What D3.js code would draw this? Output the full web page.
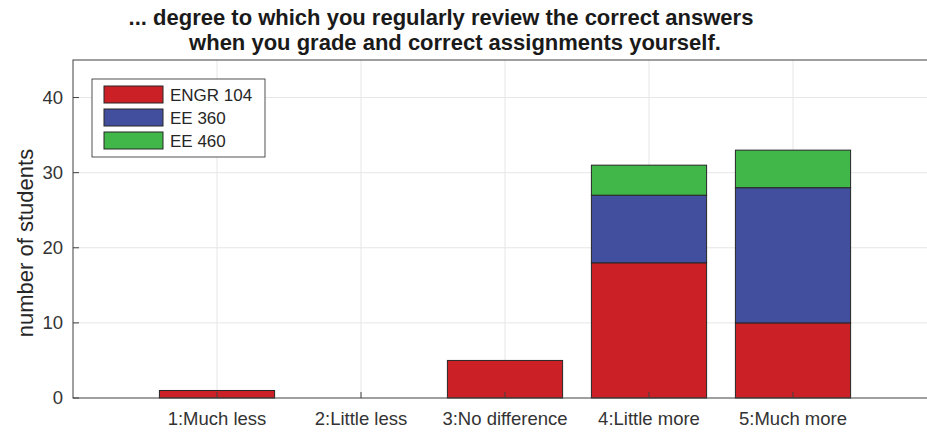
<!DOCTYPE html>
<html>
<head>
<meta charset="utf-8">
<script src="https://cdn.jsdelivr.net/npm/d3@7"></script>
<style>
  body { margin: 0; background: #fff; }
  text { font-family: "Liberation Sans", Arial, Helvetica, sans-serif; }
</style>
</head>
<body>
<div id="chart"></div>
<script>
var categories = ["1:Much less", "2:Little less", "3:No difference", "4:Little more", "5:Much more"];
var series = ["ENGR 104", "EE 360", "EE 460"];
var engr104 = [1, 0, 5, 18, 10];
var ee360 = [0, 0, 0, 9, 18];
var ee460 = [0, 0, 0, 4, 5];
var yTicks = [0, 10, 20, 30, 40];
var colors = ["#cc2027", "#424f9e", "#41b649"];
var titleLines = ["... degree to which you regularly review the correct answers",
  "when you grade and correct assignments yourself."];

var width = 927;
var height = 433;
var margin = { top: 60, left: 73, bottom: 35, right: -10 };

var svg = d3
  .select("#chart")
  .append("svg")
  .attr("width", width)
  .attr("height", height);

var x = d3.scaleLinear().domain([0, 6]).range([margin.left, width - margin.right]);
var y = d3.scaleLinear().domain([0, 45]).range([height - margin.bottom, margin.top]);

// gridlines
svg.selectAll(".hgrid")
  .data(yTicks.slice(1))
  .enter()
  .append("line")
  .attr("x1", x(0)).attr("x2", x(6))
  .attr("y1", function(d) { return y(d); })
  .attr("y2", function(d) { return y(d); })
  .attr("stroke", "#e6e6e6").attr("stroke-width", 1);

svg.selectAll(".vgrid")
  .data(categories)
  .enter()
  .append("line")
  .attr("x1", function(d, i) { return x(i + 1); })
  .attr("x2", function(d, i) { return x(i + 1); })
  .attr("y1", y(0)).attr("y2", y(45))
  .attr("stroke", "#e6e6e6").attr("stroke-width", 1);

// stacked data
var table = categories.map(function(c, i) {
  return { cat: c, i: i, "ENGR 104": engr104[i], "EE 360": ee360[i], "EE 460": ee460[i] };
});
var stacked = d3.stack().keys(series)(table);
var barW = (x(1) - x(0)) * 0.8;

svg.selectAll(".layer")
  .data(stacked)
  .enter()
  .append("g")
  .attr("fill", function(d, k) { return colors[k]; })
  .selectAll("rect")
  .data(function(d) { return d; })
  .enter()
  .append("rect")
  .attr("x", function(d) { return x(d.data.i + 1) - barW / 2; })
  .attr("width", barW)
  .attr("y", function(d) { return y(d[1]); })
  .attr("height", function(d) { return y(d[0]) - y(d[1]); })
  .attr("stroke", "#262626")
  .attr("stroke-width", 1);

// axes box
var axisColor = "#404040";
svg.append("rect")
  .attr("x", x(0)).attr("y", y(45))
  .attr("width", x(6) - x(0)).attr("height", y(0) - y(45))
  .attr("fill", "none").attr("stroke", axisColor).attr("stroke-width", 1);

// y ticks
var yAxis = svg.append("g");
yAxis.selectAll("line")
  .data(yTicks)
  .enter()
  .append("line")
  .attr("x1", x(0)).attr("x2", x(0) + 6)
  .attr("y1", function(d) { return y(d); })
  .attr("y2", function(d) { return y(d); })
  .attr("stroke", axisColor);
yAxis.selectAll("text")
  .data(yTicks)
  .enter()
  .append("text")
  .attr("x", x(0) - 10)
  .attr("y", function(d) { return y(d); })
  .attr("dy", "0.35em")
  .attr("text-anchor", "end")
  .attr("font-size", "18.5px")
  .attr("fill", "#333")
  .text(function(d) { return d; });

// x ticks
var xAxis = svg.append("g");
xAxis.selectAll("line")
  .data(categories)
  .enter()
  .append("line")
  .attr("x1", function(d, i) { return x(i + 1); })
  .attr("x2", function(d, i) { return x(i + 1); })
  .attr("y1", y(0)).attr("y2", y(0) - 6)
  .attr("stroke", axisColor);
xAxis.selectAll("text")
  .data(categories)
  .enter()
  .append("text")
  .attr("x", function(d, i) { return x(i + 1); })
  .attr("y", 425)
  .attr("text-anchor", "middle")
  .attr("font-size", "18.5px")
  .attr("fill", "#333")
  .text(function(d) { return d; });

// y label
svg.append("text")
  .attr("transform", "translate(33,243) rotate(-90)")
  .attr("text-anchor", "middle")
  .attr("font-size", "22px")
  .attr("fill", "#262626")
  .text("number of students");

// title
svg.selectAll(".title")
  .data(titleLines)
  .enter()
  .append("text")
  .attr("x", function(d, i) { return i == 0 ? 441 : 455; })
  .attr("y", function(d, i) { return 25 + i * 25; })
  .attr("text-anchor", "middle")
  .attr("font-size", "22px")
  .attr("font-weight", "bold")
  .attr("fill", "#1a1a1a")
  .text(function(d) { return d; });

// legend
var legend = svg.append("g").attr("transform", "translate(92,79)");
legend.append("rect")
  .attr("width", 173).attr("height", 78)
  .attr("fill", "#fff").attr("stroke", "#262626").attr("stroke-width", 0.8);
var items = legend.selectAll(".item")
  .data(series)
  .enter()
  .append("g")
  .attr("transform", function(d, i) { return "translate(12," + (7 + i * 23) + ")"; });
items.append("rect")
  .attr("width", 59).attr("height", 17)
  .attr("fill", function(d, i) { return colors[i]; })
  .attr("stroke", "#262626").attr("stroke-width", 1);
items.append("text")
  .attr("x", 66).attr("y", 8.5)
  .attr("dy", "0.36em")
  .attr("font-size", "17px")
  .attr("fill", "#262626")
  .text(function(d) { return d; });
</script>
</body>
</html>
